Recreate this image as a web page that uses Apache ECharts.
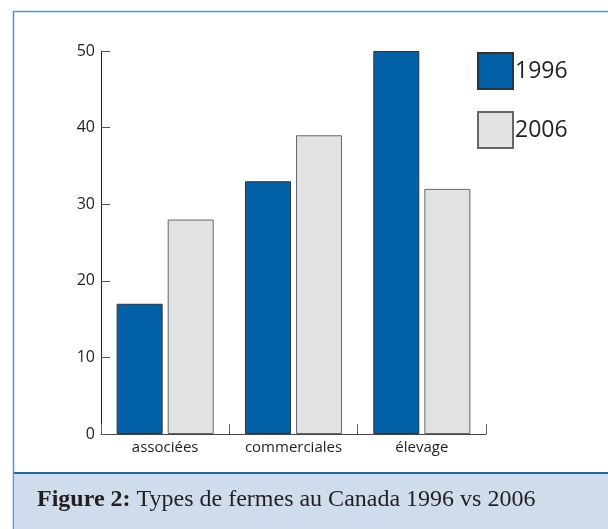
<!DOCTYPE html>
<html>
<head>
<meta charset="utf-8">
<script src="https://cdn.jsdelivr.net/npm/echarts@6/dist/echarts.min.js"></script>
<style>
  html, body { margin: 0; padding: 0; background: #fff; }
  #main { width: 608px; height: 529px; }
</style>
</head>
<body>
<div id="main"></div>
<script>
var categories = ['associées', 'commerciales', 'élevage'];
var values1996 = [17, 33, 50];
var values2006 = [28, 39, 32];
var yTicks = [0, 10, 20, 30, 40, 50];

(function () {
    'use strict';
    var myChart = echarts.init(document.getElementById('main'));
    var font = 'Open Sans';

    var option = {
        animation: false,
        backgroundColor: '#fff',
        // cadre + légende de la figure
        graphic: [
            {
                type: 'rect',
                shape: { x: 13.5, y: 11.5, width: 620, height: 540 },
                style: { fill: '#fff', stroke: '#5b93c4', lineWidth: 1.5 },
                z: -10
            },
            {
                type: 'rect',
                shape: { x: 14, y: 473, width: 620, height: 80 },
                style: { fill: '#cfdceb' },
                z: -9
            },
            {
                type: 'line',
                shape: { x1: 14, y1: 473, x2: 620, y2: 473 },
                style: { stroke: '#24689f', lineWidth: 2 },
                z: -8
            },
            {
                type: 'text',
                left: 37,
                top: 488,
                style: {
                    text: '{b|Figure 2:} Types de fermes au Canada 1996 vs 2006',
                    font: '24px "Liberation Serif"',
                    fill: '#231f20',
                    rich: {
                        b: { fontFamily: 'Liberation Serif', fontSize: 24, fontWeight: 'bold', fill: '#231f20' }
                    }
                }
            }
        ],
        legend: {
            orient: 'vertical',
            left: 477,
            top: 52,
            padding: 0,
            itemWidth: 35,
            itemHeight: 36,
            itemGap: 21,
            icon: 'rect',
            textStyle: { fontFamily: font, fontSize: 23, color: '#231f20', padding: [0, 0, 0, -3] }
        },
        grid: {
            left: 101,
            right: 122,
            top: 51,
            bottom: 95
        },
        xAxis: {
            type: 'category',
            data: categories,
            axisLine: { lineStyle: { color: '#444', width: 1 } },
            axisTick: { show: true, inside: true, length: 10, interval: 0, lineStyle: { color: '#666' } },
            axisLabel: { fontFamily: font, fontSize: 15, color: '#231f20', margin: 6, interval: 0 }
        },
        yAxis: {
            type: 'value',
            min: yTicks[0],
            max: yTicks[yTicks.length - 1],
            interval: 10,
            splitLine: { show: false },
            axisLine: { show: true, lineStyle: { color: '#222', width: 1 } },
            axisTick: { show: true, inside: true, length: 9, lineStyle: { color: '#555' } },
            axisLabel: { fontFamily: font, fontSize: 16, color: '#231f20', margin: 6 }
        },
        series: [
            {
                name: '1996',
                type: 'bar',
                data: values1996,
                barWidth: 46,
                barGap: '11%',
                itemStyle: { color: '#0061a6', borderColor: '#333', borderWidth: 1 }
            },
            {
                name: '2006',
                type: 'bar',
                data: values2006,
                barWidth: 46,
                itemStyle: { color: '#e1e2e4', borderColor: '#666', borderWidth: 1 }
            }
        ]
    };
    myChart.setOption(option);
    window.addEventListener('resize', function () {
        myChart.resize();
    });
})();
</script>
</body>
</html>
